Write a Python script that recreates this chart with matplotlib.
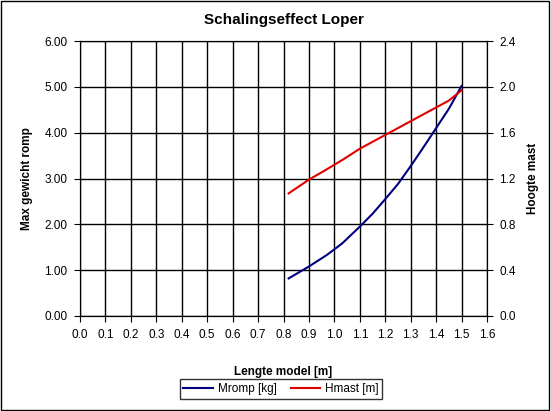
import matplotlib
matplotlib.use("Agg")
import matplotlib.pyplot as plt
from matplotlib.lines import Line2D
from matplotlib.patches import Rectangle

lengte = [0.82, 0.9, 0.97, 1.03, 1.1, 1.15, 1.2, 1.25, 1.3, 1.35, 1.4, 1.45, 1.5]
mromp = [0.82, 1.08, 1.33, 1.58, 1.95, 2.23, 2.55, 2.88, 3.27, 3.68, 4.1, 4.52, 5.02]
hmast = [1.07, 1.19, 1.28, 1.36, 1.46, 1.52, 1.58, 1.64, 1.70, 1.76, 1.82, 1.88, 1.97]

plt.rcParams['font.family'] = ['Liberation Sans', 'DejaVu Sans']
fig = plt.figure(figsize=(5.51, 4.11), dpi=100)
fig.patches.append(Rectangle((0.002, 0.002), 0.995, 0.995, transform=fig.transFigure,
                             fill=False, edgecolor='black', lw=1))
ax = fig.add_axes([80/551, 1-316/411, 407/551, 275/411])
ax.plot(lengte, mromp, color='#000080', lw=1.5)
ax.set_xlim(0, 1.6); ax.set_ylim(0, 6)
ax.set_xticks([i/10 for i in range(17)])
ax.set_xticklabels([f"{i/10:.1f}" for i in range(17)], fontsize=8.5)
ax.set_yticks(range(7))
ax.set_yticklabels([f"{i:.2f}" for i in range(7)], fontsize=8.5)
ax.grid(True, color='black', lw=1)
ax.set_xlabel("Lengte model [m]", fontsize=8.5, fontweight='bold', labelpad=18)
ax.set_ylabel("Max gewicht romp", fontsize=8.5, fontweight='bold', labelpad=8)
ax.set_title("Schalingseffect Loper", fontsize=11, fontweight='bold', pad=12)
ax2 = ax.twinx()
ax2.plot(lengte, hmast, color='#e00000', lw=1.5)
ax2.set_ylim(0, 2.4)
ax2.set_yticks([0, 0.4, 0.8, 1.2, 1.6, 2.0, 2.4])
ax2.set_yticklabels(["0.0", "0.4", "0.8", "1.2", "1.6", "2.0", "2.4"], fontsize=8.5)
ax2.set_ylabel("Hoogte mast", fontsize=8.5, fontweight='bold', labelpad=8)
for a in (ax, ax2):
    a.tick_params(direction='out', length=4, pad=5)
handles = [Line2D([], [], color='#000080', lw=1.5), Line2D([], [], color='#e00000', lw=1.5)]
fig.legend(handles, ["Mromp [kg]", "Hmast [m]"], loc='center', bbox_to_anchor=(281/551, 1-389/411),
           ncol=2, fontsize=8.5, frameon=True, edgecolor='black', fancybox=False,
           handlelength=2.5, columnspacing=1.2, handletextpad=0.4, borderpad=0.3)
fig.savefig("out.png", dpi=100)
